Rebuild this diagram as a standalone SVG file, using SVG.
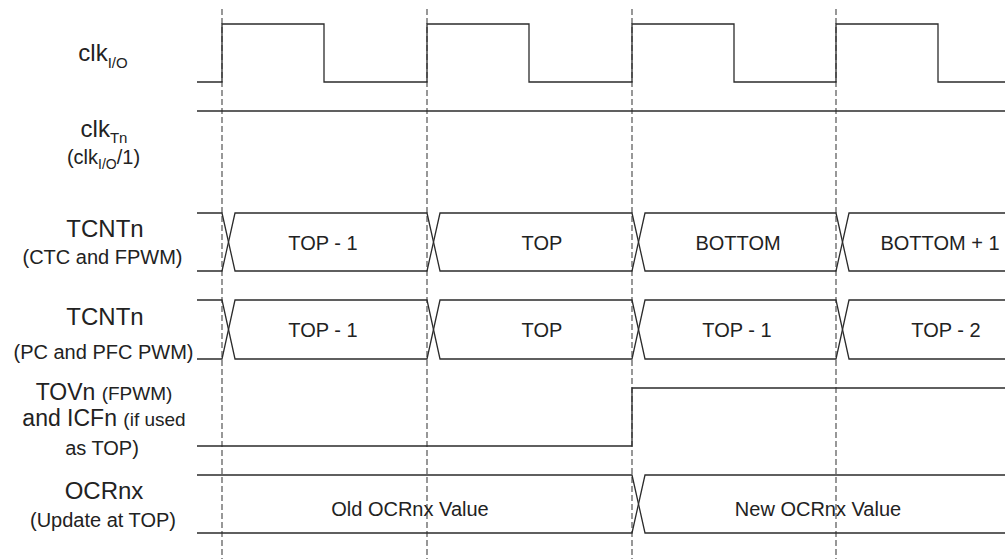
<svg xmlns="http://www.w3.org/2000/svg" width="1005" height="559" viewBox="0 0 1005 559">
<style>
.w{fill:none;stroke:#2b2b2b;stroke-width:1.3;stroke-linejoin:miter}
.d{fill:none;stroke:#444;stroke-width:1.1;stroke-dasharray:6 3}
text{font-family:"Liberation Sans",Arial,Helvetica,sans-serif;fill:#222}
.m{font-size:24px;text-anchor:middle}
.s{font-size:20px;text-anchor:middle}
.v{font-size:20px;text-anchor:middle}
</style>
<rect width="1005" height="559" fill="#fff"/>
<g id="time-markers">
<line class="d" x1="222" y1="9" x2="222" y2="559"/>
<line class="d" x1="427" y1="9" x2="427" y2="559"/>
<line class="d" x1="632" y1="9" x2="632" y2="559"/>
<line class="d" x1="836" y1="9" x2="836" y2="559"/>
</g>
<g id="clkio">
<text class="m" x="103" y="61">clk<tspan font-size="15" dy="7">I/O</tspan></text>
<path class="w" d="M197,82H222V24H324V82H427V24H529V82H632V24H734V82H836V24H938V82H1005"/>
</g>
<g id="clktn">
<text class="m" x="104" y="137">clk<tspan font-size="15" dy="6">Tn</tspan></text>
<text class="s" x="103.5" y="164">(clk<tspan font-size="14" dy="5">I/O</tspan><tspan dy="-5">/1)</tspan></text>
<path class="w" d="M197,111H1005"/>
</g>
<g id="tcnt-ctc">
<text class="m" x="105" y="237">TCNTn</text>
<text class="s" x="102.5" y="264">(CTC and FPWM)</text>
<path class="w" d="M197,213H222L235,271H427L440,213H632L645,271H836L849,213H1005"/>
<path class="w" d="M197,271H222L235,213H427L440,271H632L645,213H836L849,271H1005"/>
<text class="v" x="323" y="250">TOP - 1</text>
<text class="v" x="542" y="250">TOP</text>
<text class="v" x="738" y="250">BOTTOM</text>
<text class="v" x="940" y="250">BOTTOM + 1</text>
</g>
<g id="tcnt-pc">
<text class="m" x="105" y="325">TCNTn</text>
<text class="s" x="103.5" y="359">(PC and PFC PWM)</text>
<path class="w" d="M197,300H222L235,359H427L440,300H632L645,359H836L849,300H1005"/>
<path class="w" d="M197,359H222L235,300H427L440,359H632L645,300H836L849,359H1005"/>
<text class="v" x="323" y="337">TOP - 1</text>
<text class="v" x="542" y="337">TOP</text>
<text class="v" x="737" y="337">TOP - 1</text>
<text class="v" x="946" y="337">TOP - 2</text>
</g>
<g id="tovn">
<text x="104" y="400" font-size="23" text-anchor="middle">TOVn <tspan font-size="19">(FPWM)</tspan></text>
<text x="104" y="426" font-size="23" text-anchor="middle">and ICFn <tspan font-size="19">(if used</tspan></text>
<text class="s" x="102" y="455">as TOP)</text>
<path class="w" d="M197,446H632V388H1005"/>
</g>
<g id="ocrnx">
<text class="m" x="104" y="499">OCRnx</text>
<text class="s" x="103" y="527">(Update at TOP)</text>
<path class="w" d="M197,475H632L645,533H1005"/>
<path class="w" d="M197,533H632L645,475H1005"/>
<text class="v" x="410" y="516">Old OCRnx Value</text>
<text class="v" x="818" y="516">New OCRnx Value</text>
</g>
</svg>
